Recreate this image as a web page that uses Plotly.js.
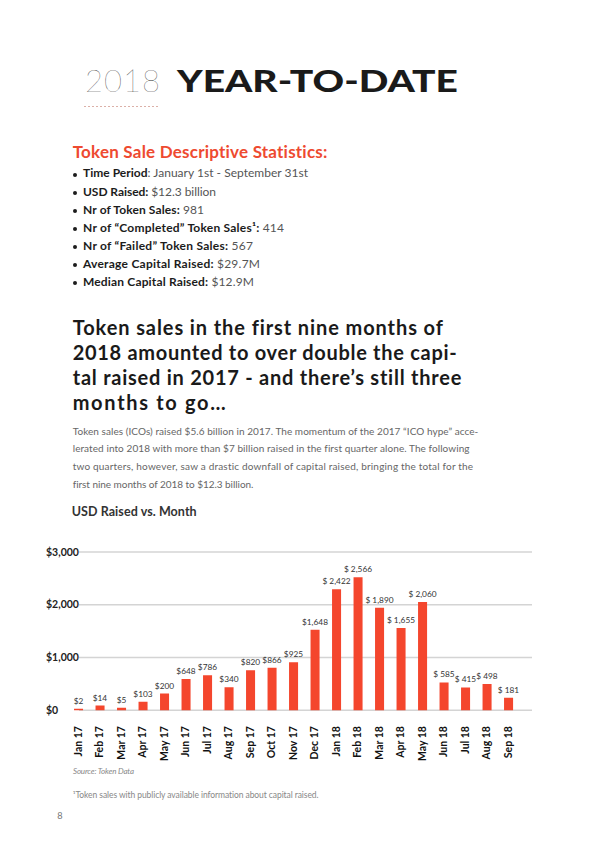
<!DOCTYPE html>
<html><head><meta charset="utf-8">
<script src="https://cdn.plot.ly/plotly-3.0.1.min.js"></script>
<style>
html,body{margin:0;padding:0;background:#fff;}
#page{position:relative;width:600px;height:848px;overflow:hidden;font-family:Lato,sans-serif;}
#chart{position:absolute;left:0;top:0;width:600px;height:848px;}
.t{position:absolute;white-space:nowrap;line-height:1.2;transform-origin:0 50%;}
.lab{color:#1c1c1c;font-weight:700;}
.val{color:#555;font-weight:400;}
</style></head>
<body><div id="page"><div id="chart"></div></div>
<script>
// ---- chart data (USD millions) ----
const months = ["Jan 17","Feb 17","Mar 17","Apr 17","May 17","Jun 17","Jul 17","Aug 17","Sep 17","Oct 17","Nov 17","Dec 17",
                "Jan 18","Feb 18","Mar 18","Apr 18","May 18","Jun 18","Jul 18","Aug 18","Sep 18"];
const usdRaised = [28, 88, 44, 157, 315, 591, 660, 434, 755, 805, 906, 1525,
                   2291, 2519, 1943, 1557, 2051, 525, 430, 494, 234];
const valueLabels = ["$2","$14","$5","$103","$200","$648","$786","$340","$820","$866","$925","$1,648",
                     "$ 2,422","$ 2,566","$ 1,890","$ 1,655","$ 2,060","$ 585","$ 415","$ 498","$ 181"];
const yTicks = [0, 1000, 2000, 3000];
const yTickLabels = ["$0", "$1,000", "$2,000", "$3,000"];

const page = document.getElementById('page');
const fitList = [];
function addText(o){
  const d = document.createElement('div');
  d.className = 't';
  d.innerHTML = o.html;
  d.style.left = o.x + 'px';
  d.style.top = (o.base - 0.987*o.size) + 'px';
  d.style.fontSize = o.size + 'px';
  if (o.weight) d.style.fontWeight = o.weight;
  if (o.color) d.style.color = o.color;
  if (o.italic) d.style.fontStyle = 'italic';
  page.appendChild(d);
  if (o.width) fitList.push([d, o.width, o.mode || 'space']);
  return d;
}
// Title
addText({html:"2018", x:85, base:92.3, size:31, weight:100, color:'#2a2a2a', width:75});
addText({html:"YEAR-TO-DATE", x:177.3, base:92.3, size:31, weight:900, color:'#1a1a1a', width:281, mode:'scale'});
const dash = document.createElement('div');
dash.style.cssText = 'position:absolute;left:84px;top:106px;width:76px;height:1px;background:repeating-linear-gradient(to right,#dcb0a8 0 2px,transparent 2px 4px);';
page.appendChild(dash);

addText({html:"Token Sale Descriptive Statistics:", x:72.7, base:158.3, size:17, weight:700, color:'#ee4a30', width:255.6});

const bullets = [
  ['<span class="lab">Time Period</span><span class="val">: January 1st - September 31st</span>', 225],
  ['<span class="lab">USD Raised: </span><span class="val">$12.3 billion</span>', 133],
  ['<span class="lab">Nr of Token Sales: </span><span class="val">981</span>', 121],
  ['<span class="lab">Nr of “Completed” Token Sales¹: </span><span class="val">414</span>', 201],
  ['<span class="lab">Nr of “Failed” Token Sales: </span><span class="val">567</span>', 170],
  ['<span class="lab">Average Capital Raised: </span><span class="val">$29.7M</span>', 177],
  ['<span class="lab">Median Capital Raised: </span><span class="val">$12.9M</span>', 171]
];
bullets.forEach((b,i)=>{
  const base = 178.3 + 18.1*i;
  addText({html:b[0], x:83, base:base, size:12, width:b[1]});
  const dot = document.createElement('div');
  dot.style.cssText = `position:absolute;left:73px;top:${base-5.6}px;width:4px;height:4px;border-radius:50%;background:#1c1c1c;`;
  page.appendChild(dot);
});

const heading = [
  ["Token sales in the first nine months of", 370],
  ["2018 amounted to over double the capi-", 384],
  ["tal raised in 2017 - and there’s still three", 389],
  ["months to go…", 153]
];
heading.forEach((h,i)=> addText({html:h[0], x:72.7, base:335 + 24.8*i, size:20, weight:700, color:'#1a1a1a', width:h[1]}));

const para = [
  ["Token sales (ICOs) raised $5.6 billion in 2017. The momentum of the 2017 “ICO hype” acce-", 405.6],
  ["lerated into 2018 with more than $7 billion raised in the first quarter alone. The following", 396.7],
  ["two quarters, however, saw a drastic downfall of capital raised, bringing the total for the", 400.6],
  ["first nine months of 2018 to $12.3 billion.", 180.6]
];
para.forEach((p,i)=> addText({html:p[0], x:72.7, base:434.5 + 17.7*i, size:10, weight:400, color:'#666', width:p[1]}));

addText({html:"USD Raised vs. Month", x:71.7, base:516.7, size:12.5, weight:700, color:'#333', width:125});
addText({html:"Source: Token Data", x:73, base:774.5, size:8, italic:true, weight:400, color:'#888', width:61});
addText({html:"¹Token sales with publicly available information about capital raised.", x:72.7, base:798, size:8.5, weight:400, color:'#888', width:246});
addText({html:"8", x:57.3, base:819.3, size:9.2, weight:400, color:'#777'});

function doFit(){
  fitList.forEach(([d,w,mode])=>{
    d.style.letterSpacing = '0px';
    d.style.transform = 'none';
    const cur = d.getBoundingClientRect().width;
    const n = d.textContent.length;
    if (mode === 'scale') d.style.transform = 'scaleX(' + (w/cur) + ')';
    else if (n > 1) d.style.letterSpacing = ((w - cur)/(n-1)) + 'px';
  });
}
doFit();
if (document.fonts && document.fonts.ready) document.fonts.ready.then(doFit);

// ---- chart ----
const barColor = '#f4462d';
const L = 42, R = 532;
const trace = {
  type:'bar', x:months, y:usdRaised, width:0.42,
  marker:{color:barColor},
  text:valueLabels, textposition:'outside', textangle:0,
  textfont:{family:'Lato, sans-serif', size:8.3, color:'#333'},
  constraintext:'none', cliponaxis:false, hoverinfo:'skip'
};
const layout = {
  width:600, height:848,
  margin:{l:L, r:600-R, t:543.8, b:131.1},
  paper_bgcolor:'rgba(0,0,0,0)', plot_bgcolor:'rgba(0,0,0,0)',
  showlegend:false,
  font:{family:'Lato, sans-serif'},
  xaxis:{type:'category', domain:[(73.6-L)/(R-L),1], range:[-0.23,21.09], showgrid:false, zeroline:false, showline:false,
         ticks:'', tickangle:-90, ticklabelstandoff:6, ticklabeloverflow:'allow',
         tickfont:{family:'Lato, sans-serif', size:10.5, color:'#111', weight:700}},
  yaxis:{range:[-130,3150], anchor:'free', position:0, tickmode:'array', tickvals:yTicks, ticktext:yTickLabels,
         showgrid:false, zeroline:false, showline:false, ticks:'', ticklabelposition:'inside', ticklabeloverflow:'allow',
         tickfont:{family:'Lato, sans-serif', size:10.5, color:'#222', weight:700}},
  shapes: yTicks.map(v=>({type:'line', xref:'paper', yref:'y', x0:(79-L)/(R-L), x1:1, y0:v, y1:v,
                           line:{color:'#d4d4d4', width:1.5}, layer:'below'}))
};
Plotly.newPlot('chart', [trace], layout, {staticPlot:true, displayModeBar:false});
</script>
</body></html>
